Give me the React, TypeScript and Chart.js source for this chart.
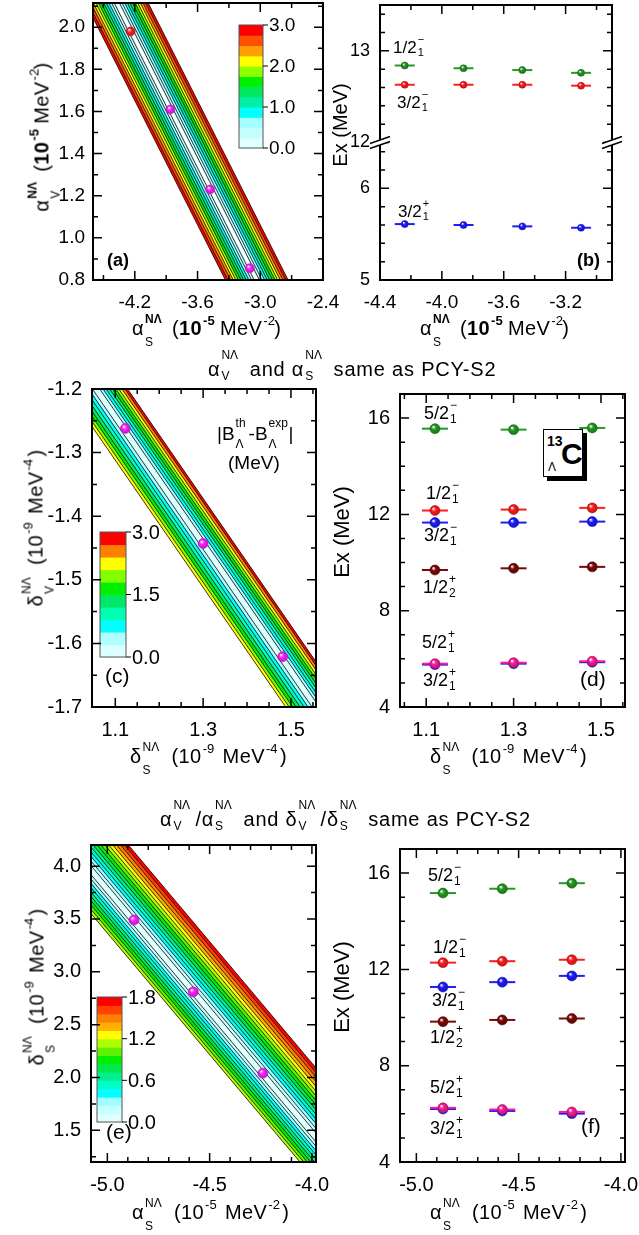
import React, { useEffect, useRef } from 'react';
import { Chart, registerables } from 'chart.js';

Chart.register(...registerables);

const FONT = '"Liberation Sans", Arial, Helvetica, sans-serif';

// ================= DATA =================
// (a) contour over (alpha_S, alpha_V)
const aPointsX = [-4.24, -3.86, -3.48, -3.10];
const aPointsY = [1.98, 1.61, 1.23, 0.856];
const aPointColors = ['#ff2020', '#ff20ff', '#ff20ff', '#ff20ff'];
const aValleyX = [-4.56, -2.83];
const aValleyY = [2.30, 0.60];
const aEdgesPlus = [0.025, 0.05, 0.075, 0.10, 0.125, 0.15, 0.175, 0.20, 0.225, 0.25, 0.275, 0.30];
const aEdgesMinus = [-0.025, -0.05, -0.075, -0.10, -0.125, -0.15, -0.175, -0.20, -0.225, -0.25, -0.275, -0.30];
const aLevelColors = ['#e0ffff', '#c4ffff', '#a4ffff', '#00ffff', '#00f0a8', '#00e860', '#00f000', '#90ff00', '#ffff00', '#ffa000', '#ff5000', '#ff0000'];
const aBarLabels = ['0.0', '1.0', '2.0', '3.0'];

// (b) excitation energies vs alpha_S
const bAlphaS = [-4.24, -3.86, -3.48, -3.10];
const bHalf1Minus = [12.84, 12.81, 12.79, 12.76];
const bThree2Minus1 = [12.63, 12.63, 12.63, 12.62];
const bThree2Plus1 = [5.61, 5.60, 5.585, 5.57];
const bLowTicks = [5, 5.2, 5.4, 5.6, 5.8, 6, 6.2, 6.4];
const bHighTicks = [12, 12.2, 12.4, 12.6, 12.8, 13, 13.2, 13.4];
const bLabelled = [5, 6, 12, 13];

// (c) contour over (delta_S, delta_V)
const cPointsX = [1.123, 1.30, 1.481];
const cPointsY = [-1.262, -1.443, -1.621];
const cValleyX = [1.0, 1.6];
const cValleyY = [-1.143, -1.743];
const cEdgesPlus = [0.0075, 0.015, 0.0225, 0.030, 0.037, 0.044, 0.051, 0.058, 0.065, 0.071];
const cEdgesMinus = [-0.009, -0.018, -0.027, -0.036, -0.045, -0.053, -0.061, -0.069];
const cLevelColors = ['#dcffff', '#b0ffff', '#00ffff', '#00ffb0', '#00e868', '#00f000', '#80ff00', '#ffff00', '#ff8000', '#ff0000'];
const cBarLabels = ['0.0', '1.5', '3.0'];

// (d) excitation energies vs delta_S
const dDeltaS = [1.12, 1.30, 1.48];
const dFive2Minus1 = [15.56, 15.52, 15.59];
const dHalf1Minus = [12.16, 12.20, 12.27];
const dThree2Minus1 = [11.66, 11.66, 11.70];
const dHalf2Plus = [9.69, 9.76, 9.82];
const dFive2Plus1 = [5.80, 5.84, 5.90];
const dThree2Plus1 = [5.76, 5.80, 5.86];

// (e) contour over (alpha_S, delta_S)
const ePointsX = [-4.87, -4.58, -4.24];
const ePointsY = [3.49, 2.81, 2.04];
const eValleyX = [-5.2, -3.9];
const eValleyY = [4.236, 1.246];
const eEdgesPlus = [0.044, 0.088, 0.132, 0.176, 0.22, 0.264, 0.308, 0.352, 0.396, 0.44, 0.484, 0.528, 0.572, 0.616, 0.66];
const eEdgesMinus = [-0.041, -0.082, -0.123, -0.164, -0.205, -0.246, -0.287, -0.328, -0.369, -0.41];
const eLevelColors = ['#e0ffff', '#c8ffff', '#a0ffff', '#00ffff', '#00ffc8', '#00f090', '#00e850', '#00f000', '#60f000', '#b0ff00', '#ffff00', '#ffb000', '#ff8000', '#ff4000', '#ff0000'];
const eBarLabels = ['0.0', '0.6', '1.2', '1.8'];

// (f) excitation energies vs alpha_S (ratios fixed)
const fAlphaS = [-4.87, -4.58, -4.24];
const fFive2Minus1 = [15.17, 15.35, 15.58];
const fHalf1Minus = [12.28, 12.34, 12.40];
const fThree2Minus1 = [11.27, 11.47, 11.73];
const fHalf2Plus = [9.83, 9.90, 9.96];
const fFive2Plus1 = [6.25, 6.18, 6.08];
const fThree2Plus1 = [6.20, 6.12, 6.01];

// ================= LAYOUT =================
const YW = 70, PT = 10, PR = 26, XH = 40;
type Geom = { L: number; T: number; R: number; B: number };
const GA: Geom = { L: 93, T: 3, R: 323, B: 280 };
const GB: Geom = { L: 380, T: 3, R: 612, B: 280 };
const GC: Geom = { L: 92, T: 389, R: 316, B: 707 };
const GD: Geom = { L: 400, T: 389, R: 625, B: 707 };
const GE: Geom = { L: 91, T: 845, R: 316, B: 1162 };
const GF: Geom = { L: 400, T: 844, R: 625, B: 1162 };

const GREEN = '#229a22', RED = '#ff1c1c', BLUE = '#1c1cff', DRED = '#7a0808', PINK = '#ff1a96';

const seq = (a: number, b: number, step: number) => {
  const out: number[] = [];
  for (let i = 0; a + i * step <= b + 1e-9; i++) out.push(+(a + i * step).toFixed(6));
  return out;
};

function axis(kind: 'x' | 'y', min: number, max: number, ticks: number[], majors: number[], fmt: (v: number) => string, size: number, pad: number) {
  return {
    type: 'linear',
    position: kind === 'x' ? 'bottom' : 'left',
    min,
    max,
    grid: { display: false, drawTicks: false },
    border: { display: false },
    afterBuildTicks: (s: any) => {
      s.ticks = ticks.map((v) => ({ value: v }));
    },
    afterFit: (s: any) => {
      if (kind === 'x') s.height = XH;
      else s.width = YW;
      s.paddingLeft = 0;
      s.paddingRight = 0;
      s.paddingTop = 0;
      s.paddingBottom = 0;
    },
    ticks: {
      autoSkip: false,
      maxRotation: 0,
      minRotation: 0,
      padding: pad,
      color: '#000',
      font: { family: FONT, size },
      callback: (v: number) => {
        const i = majors.findIndex((q) => Math.abs(q - v) < 1e-6);
        return i < 0 ? '' : fmt(majors[i]);
      },
    },
  };
}

function baseOptions(xs: any, ys: any) {
  return {
    animation: false,
    responsive: false,
    events: [],
    layout: { padding: { left: 0, top: PT, right: PR, bottom: 0 } },
    plugins: { legend: { display: false }, tooltip: { enabled: false } },
    scales: { x: xs, y: ys },
  };
}

function shade(hex: string, f: number) {
  const n = parseInt(hex.slice(1), 16);
  const r = Math.round(((n >> 16) & 255) * f), g = Math.round(((n >> 8) & 255) * f), b = Math.round((n & 255) * f);
  return `rgb(${r},${g},${b})`;
}

function sphere(color: string | string[], r: number) {
  return (c: any) => {
    const col = Array.isArray(color) ? color[c.dataIndex] || color[0] : color;
    if (!c || c.type !== 'data' || !c.parsed) return col;
    const ch = c.chart;
    const px = ch.scales.x.getPixelForValue(c.parsed.x);
    const py = ch.scales.y.getPixelForValue(c.parsed.y);
    if (!isFinite(px) || !isFinite(py)) return col;
    const g = ch.ctx.createRadialGradient(px - r * 0.35, py - r * 0.4, r * 0.05, px, py, r);
    g.addColorStop(0, '#ffffff');
    g.addColorStop(0.4, col);
    g.addColorStop(1, shade(col, 0.75));
    return g;
  };
}

function framePlugin(breakAt?: number) {
  return {
    id: 'frame',
    afterDraw(chart: any) {
      const { ctx, chartArea: a, scales } = chart;
      const xs = scales.x, ys = scales.y;
      ctx.save();
      ctx.strokeStyle = '#000';
      ctx.lineWidth = 1.5;
      ctx.beginPath();
      xs.ticks.forEach((t: any) => {
        const p = xs.getPixelForValue(t.value);
        if (p < a.left + 1.5 || p > a.right - 1.5) return;
        const len = t.label ? 9 : 5;
        ctx.moveTo(p, a.bottom);
        ctx.lineTo(p, a.bottom - len);
        ctx.moveTo(p, a.top);
        ctx.lineTo(p, a.top + len);
      });
      ys.ticks.forEach((t: any) => {
        const p = ys.getPixelForValue(t.value);
        if (p < a.top + 1.5 || p > a.bottom - 1.5) return;
        const len = t.label ? 9 : 5;
        ctx.moveTo(a.left, p);
        ctx.lineTo(a.left + len, p);
        ctx.moveTo(a.right, p);
        ctx.lineTo(a.right - len, p);
      });
      ctx.stroke();
      ctx.lineWidth = 2;
      ctx.strokeRect(a.left, a.top, a.right - a.left, a.bottom - a.top);
      if (breakAt !== undefined) {
        const yb = ys.getPixelForValue(breakAt);
        [a.left, a.right].forEach((xb: number) => {
          ctx.fillStyle = '#fff';
          ctx.beginPath();
          ctx.moveTo(xb - 10, yb + 1);
          ctx.lineTo(xb + 10, yb - 6);
          ctx.lineTo(xb + 10, yb - 1);
          ctx.lineTo(xb - 10, yb + 6);
          ctx.closePath();
          ctx.fill();
          ctx.lineWidth = 1.5;
          ctx.beginPath();
          ctx.moveTo(xb - 10, yb + 1);
          ctx.lineTo(xb + 10, yb - 6);
          ctx.moveTo(xb - 10, yb + 6);
          ctx.lineTo(xb + 10, yb - 1);
          ctx.stroke();
        });
      }
      ctx.restore();
    },
  };
}

type BandCfg = { vx: number[]; vy: number[]; dir: 'x' | 'y'; plus: number[]; minus: number[]; colors: string[]; white?: boolean };
function bandPlugin(b: BandCfg) {
  return {
    id: 'bands',
    beforeDatasetsDraw(chart: any) {
      const { ctx, chartArea: a, scales } = chart;
      const x = scales.x, y = scales.y;
      const pt = (i: number, o: number): [number, number] =>
        b.dir === 'x'
          ? [x.getPixelForValue(b.vx[i] + o), y.getPixelForValue(b.vy[i])]
          : [x.getPixelForValue(b.vx[i]), y.getPixelForValue(b.vy[i] + o)];
      ctx.save();
      ctx.beginPath();
      ctx.rect(a.left, a.top, a.right - a.left, a.bottom - a.top);
      ctx.clip();
      [b.plus, b.minus].forEach((edges) => {
        let prev = 0;
        edges.forEach((o, i) => {
          const p = [pt(0, prev), pt(1, prev), pt(1, o), pt(0, o)];
          ctx.beginPath();
          ctx.moveTo(p[0][0], p[0][1]);
          for (let k = 1; k < 4; k++) ctx.lineTo(p[k][0], p[k][1]);
          ctx.closePath();
          ctx.fillStyle = b.colors[i];
          ctx.fill();
          prev = o;
        });
      });
      ctx.strokeStyle = '#000';
      ctx.lineWidth = 0.8;
      [...b.plus, ...b.minus].forEach((o) => {
        const p0 = pt(0, o), p1 = pt(1, o);
        ctx.beginPath();
        ctx.moveTo(p0[0], p0[1]);
        ctx.lineTo(p1[0], p1[1]);
        ctx.stroke();
      });
      if (b.white) {
        const p0 = pt(0, 0), p1 = pt(1, 0);
        ctx.strokeStyle = '#fff';
        ctx.lineWidth = 2;
        ctx.beginPath();
        ctx.moveTo(p0[0], p0[1]);
        ctx.lineTo(p1[0], p1[1]);
        ctx.stroke();
      }
      ctx.restore();
    },
  };
}

function colorbarPlugin(g: Geom, r: { x0: number; y0: number; x1: number; y1: number }, colors: string[], labels: string[], size: number) {
  return {
    id: 'cbar',
    afterDatasetsDraw(chart: any) {
      const ctx = chart.ctx;
      const ox = g.L - YW, oy = g.T - PT;
      const x0 = r.x0 - ox, x1 = r.x1 - ox, y0 = r.y0 - oy, y1 = r.y1 - oy;
      const n = colors.length, h = (y1 - y0) / n;
      ctx.save();
      colors.forEach((c, i) => {
        ctx.fillStyle = c;
        ctx.fillRect(x0, y1 - (i + 1) * h, x1 - x0, h + 0.6);
      });
      ctx.strokeStyle = '#555';
      ctx.lineWidth = 1;
      ctx.strokeRect(x0, y0, x1 - x0, y1 - y0);
      ctx.fillStyle = '#000';
      ctx.font = `${size}px ${FONT}`;
      ctx.textBaseline = 'middle';
      ctx.textAlign = 'left';
      ctx.strokeStyle = '#000';
      labels.forEach((lab, j) => {
        const yy = y1 - ((y1 - y0) * j) / (labels.length - 1);
        ctx.beginPath();
        ctx.moveTo(x1, yy);
        ctx.lineTo(x1 + 5, yy);
        ctx.stroke();
        ctx.fillText(lab, x1 + 6, yy + 1);
      });
      ctx.restore();
    },
  };
}

function stateSets(xs: number[], states: { ys: number[]; col: string }[], segR: number, dotR: number, map: (v: number) => number = (v) => v) {
  const sets: any[] = [];
  states.forEach((s, k) => {
    const data = xs.map((x, i) => ({ x, y: map(s.ys[i]) }));
    sets.push({
      data,
      order: 2 * k,
      pointStyle: 'circle',
      pointRadius: dotR,
      pointBackgroundColor: sphere(s.col, dotR),
      pointBorderColor: shade(s.col, 0.7),
      pointBorderWidth: 0.6,
    });
    sets.push({
      data,
      order: 2 * k + 1,
      pointStyle: 'line',
      pointRadius: segR,
      pointBorderColor: s.col,
      pointBorderWidth: 2,
    });
  });
  return sets;
}

function dotSet(xs: number[], ys: number[], colors: string[], r: number) {
  return {
    data: xs.map((x, i) => ({ x, y: ys[i] })),
    pointStyle: 'circle',
    pointRadius: r,
    pointBackgroundColor: sphere(colors, r),
    pointBorderColor: colors.map((c) => shade(c, 0.75)),
    pointBorderWidth: 0.6,
  };
}

const f1 = (v: number) => v.toFixed(1);
const f0 = (v: number) => String(v);
const bMap = (v: number) => (v < 9 ? v - 5 : v - 10.5);

const makeA = () => ({
  type: 'scatter',
  data: { datasets: [dotSet(aPointsX, aPointsY, aPointColors, 4.5)] },
  options: baseOptions(
    axis('x', -4.6, -2.4, seq(-4.5, -2.4, 0.3), [-4.2, -3.6, -3.0, -2.4], f1, 19, 11),
    axis('y', 0.8, 2.115, seq(0.8, 2.1, 0.1), [0.8, 1.0, 1.2, 1.4, 1.6, 1.8, 2.0], f1, 19, 8),
  ),
  plugins: [
    bandPlugin({ vx: aValleyX, vy: aValleyY, dir: 'x', plus: aEdgesPlus, minus: aEdgesMinus, colors: aLevelColors, white: true }),
    colorbarPlugin(GA, { x0: 239, y0: 25, x1: 263, y1: 148 }, aLevelColors, aBarLabels, 19),
    framePlugin(),
  ],
});

const makeB = () => ({
  type: 'scatter',
  data: {
    datasets: stateSets(bAlphaS, [
      { ys: bHalf1Minus, col: GREEN },
      { ys: bThree2Minus1, col: RED },
      { ys: bThree2Plus1, col: BLUE },
    ], 10, 3.5, bMap),
  },
  options: baseOptions(
    axis('x', -4.4, -2.9, seq(-4.4, -3.0, 0.2), [-4.4, -4.0, -3.6, -3.2], f1, 19, 11),
    axis('y', 0, 3, [...bLowTicks, ...bHighTicks].map(bMap), bLabelled.map(bMap), (v) => String(bLabelled[bLabelled.map(bMap).findIndex((q) => Math.abs(q - v) < 1e-6)]), 18, 10),
  ),
  plugins: [framePlugin(1.5)],
});

const makeC = () => ({
  type: 'scatter',
  data: { datasets: [dotSet(cPointsX, cPointsY, ['#ff20ff', '#ff20ff', '#ff20ff'], 5)] },
  options: baseOptions(
    axis('x', 1.047, 1.557, seq(1.05, 1.55, 0.05), [1.1, 1.3, 1.5], f1, 20, 11),
    axis('y', -1.7, -1.2, seq(-1.7, -1.2, 0.05), [-1.7, -1.6, -1.5, -1.4, -1.3, -1.2], f1, 20, 10),
  ),
  plugins: [
    bandPlugin({ vx: cValleyX, vy: cValleyY, dir: 'y', plus: cEdgesPlus, minus: cEdgesMinus, colors: cLevelColors }),
    colorbarPlugin(GC, { x0: 100, y0: 532, x1: 126, y1: 657 }, cLevelColors, cBarLabels, 20),
    framePlugin(),
  ],
});

const makeD = () => ({
  type: 'scatter',
  data: {
    datasets: stateSets(dDeltaS, [
      { ys: dFive2Minus1, col: GREEN },
      { ys: dHalf1Minus, col: RED },
      { ys: dThree2Minus1, col: BLUE },
      { ys: dHalf2Plus, col: DRED },
      { ys: dFive2Plus1, col: PINK },
      { ys: dThree2Plus1, col: BLUE },
    ], 13, 5),
  },
  options: baseOptions(
    axis('x', 1.04, 1.555, seq(1.05, 1.55, 0.05), [1.1, 1.3, 1.5], f1, 20, 11),
    axis('y', 4, 17, seq(4, 17, 1), [4, 8, 12, 16], f0, 20, 10),
  ),
  plugins: [framePlugin()],
});

const makeE = () => ({
  type: 'scatter',
  data: { datasets: [dotSet(ePointsX, ePointsY, ['#ff20ff', '#ff20ff', '#ff20ff'], 5)] },
  options: baseOptions(
    axis('x', -5.08, -3.98, seq(-5.0, -4.0, 0.1), [-5.0, -4.5, -4.0], f1, 20, 11),
    axis('y', 1.2, 4.2, seq(1.25, 4.0, 0.25), [1.5, 2.0, 2.5, 3.0, 3.5, 4.0], f1, 20, 10),
  ),
  plugins: [
    bandPlugin({ vx: eValleyX, vy: eValleyY, dir: 'y', plus: eEdgesPlus, minus: eEdgesMinus, colors: eLevelColors }),
    colorbarPlugin(GE, { x0: 97, y0: 997, x1: 122, y1: 1122 }, eLevelColors, eBarLabels, 20),
    framePlugin(),
  ],
});

const makeF = () => ({
  type: 'scatter',
  data: {
    datasets: stateSets(fAlphaS, [
      { ys: fFive2Minus1, col: GREEN },
      { ys: fHalf1Minus, col: RED },
      { ys: fThree2Minus1, col: BLUE },
      { ys: fHalf2Plus, col: DRED },
      { ys: fFive2Plus1, col: PINK },
      { ys: fThree2Plus1, col: BLUE },
    ], 13, 5),
  },
  options: baseOptions(
    axis('x', -5.08, -3.98, seq(-5.0, -4.0, 0.1), [-5.0, -4.5, -4.0], f1, 20, 11),
    axis('y', 4, 17, seq(4, 17, 1), [4, 8, 12, 16], f0, 20, 10),
  ),
  plugins: [framePlugin()],
});

function Panel({ g, make }: { g: Geom; make: () => any }) {
  const ref = useRef<HTMLCanvasElement>(null);
  useEffect(() => {
    const c = new Chart(ref.current as HTMLCanvasElement, make());
    return () => c.destroy();
  }, []);
  const w = YW + g.R - g.L + PR, h = PT + g.B - g.T + XH;
  return <canvas ref={ref} width={w} height={h} style={{ position: 'absolute', left: g.L - YW, top: g.T - PT, width: w, height: h }} />;
}

// ================= TEXT =================
function Txt({ x, base, fs, bold, ls, children }: any) {
  return (
    <div style={{ position: 'absolute', left: x, top: base - 0.8465 * fs, fontSize: fs, lineHeight: `${fs}px`, fontWeight: bold ? 'bold' : 'normal', whiteSpace: 'nowrap', letterSpacing: ls || 0 }}>
      {children}
    </div>
  );
}

function VTxt({ cx, cy, fs, ls, children }: any) {
  return (
    <div style={{ position: 'absolute', left: cx, top: cy, fontSize: fs, lineHeight: `${fs}px`, whiteSpace: 'nowrap', letterSpacing: ls || 0, transform: 'translate(-50%, -50%) rotate(-90deg)' }}>
      {children}
    </div>
  );
}

function Stk({ fs, s, w, sup, sub, supTop = 0, subTop = 0, bold = false }: any) {
  return (
    <span style={{ position: 'relative', display: 'inline-block', width: w, height: fs }}>
      {sup !== undefined && (
        <span style={{ position: 'absolute', left: 1, top: supTop, fontSize: s, lineHeight: `${s}px`, fontWeight: bold ? 'bold' : 'normal', letterSpacing: 0 }}>{sup}</span>
      )}
      {sub !== undefined && (
        <span style={{ position: 'absolute', left: 1, top: subTop, fontSize: s, lineHeight: `${s}px`, fontWeight: 'normal', letterSpacing: 0 }}>{sub}</span>
      )}
    </span>
  );
}

function State({ x, base, fs, num, sign, idx }: any) {
  return (
    <Txt x={x} base={base} fs={fs}>
      {num}
      <Stk fs={fs} s={Math.round(fs * 0.67)} w={fs * 0.5} sup={sign} sub={idx} supTop={-0.11 * fs} subTop={0.69 * fs} />
    </Txt>
  );
}

// axis title: alpha/delta with NΛ superscript and subscript, then units
function VarTitle({ sym, sub, exp, fs, boldTen, wide }: any) {
  const e = wide ? 15 : 12;
  return (
    <>
      {sym}
      <Stk fs={fs} s={12} w={wide ? 24 : 22} sup="NΛ" sub={sub} supTop={-2.5} subTop={fs + 1} bold={boldTen} />
      {' ('}
      {boldTen ? <b>10</b> : '10'}
      <Stk fs={fs} s={13} w={e} sup={exp[0]} supTop={-1} bold={boldTen} />
      {' MeV'}
      <Stk fs={fs} s={13} w={e} sup={exp[1]} supTop={-1} />
      {')'}
    </>
  );
}

function TitleVar({ sym, sub, fs }: any) {
  return (
    <>
      {sym}
      <Stk fs={fs} s={12} w={23} sup="NΛ" sub={sub} supTop={-6.8} subTop={14} />
    </>
  );
}

export default function App() {
  return (
    <div style={{ position: 'absolute', left: 0, top: 0, width: 639, height: 1235, background: '#fff', overflow: 'hidden', fontFamily: FONT, color: '#000' }}>
      <Panel g={GA} make={makeA} />
      <Panel g={GB} make={makeB} />
      <Panel g={GC} make={makeC} />
      <Panel g={GD} make={makeD} />
      <Panel g={GE} make={makeE} />
      <Panel g={GF} make={makeF} />

      {/* panel tags */}
      <Txt x={107} base={266} fs={18} bold>(a)</Txt>
      <Txt x={577} base={266} fs={18} bold>(b)</Txt>
      <Txt x={105} base={683} fs={21}>(c)</Txt>
      <Txt x={580} base={686} fs={21}>(d)</Txt>
      <Txt x={106} base={1139} fs={21}>(e)</Txt>
      <Txt x={581} base={1133} fs={21}>(f)</Txt>

      {/* x axis titles */}
      <Txt x={132} base={332} fs={20} ls={0.4}><VarTitle sym="α" sub="S" exp={['-5', '-2']} fs={20} boldTen /></Txt>
      <Txt x={420} base={332} fs={20} ls={0.4}><VarTitle sym="α" sub="S" exp={['-5', '-2']} fs={20} boldTen /></Txt>
      <Txt x={130} base={760} fs={20} ls={0.4}><VarTitle sym="δ" sub="S" exp={['-9', '-4']} fs={20} wide /></Txt>
      <Txt x={430} base={760} fs={20} ls={0.4}><VarTitle sym="δ" sub="S" exp={['-9', '-4']} fs={20} wide /></Txt>
      <Txt x={132} base={1216} fs={20} ls={0.4}><VarTitle sym="α" sub="S" exp={['-5', '-2']} fs={20} wide /></Txt>
      <Txt x={430} base={1216} fs={20} ls={0.4}><VarTitle sym="α" sub="S" exp={['-5', '-2']} fs={20} wide /></Txt>

      {/* y axis titles */}
      <VTxt cx={40} cy={137} fs={20} ls={0.4}><VarTitle sym="α" sub="V" exp={['-5', '-2']} fs={20} boldTen /></VTxt>
      <VTxt cx={340} cy={125} fs={20}>Ex (MeV)</VTxt>
      <VTxt cx={34} cy={528} fs={20} ls={0.4}><VarTitle sym="δ" sub="V" exp={['-9', '-4']} fs={20} wide /></VTxt>
      <VTxt cx={342} cy={532} fs={22}>Ex (MeV)</VTxt>
      <VTxt cx={35} cy={987} fs={20} ls={0.4}><VarTitle sym="δ" sub="S" exp={['-9', '-4']} fs={20} wide /></VTxt>
      <VTxt cx={342} cy={987} fs={22}>Ex (MeV)</VTxt>

      {/* section titles */}
      <Txt x={208} base={373} fs={20} ls={0.8}>
        <TitleVar sym="α" sub="V" fs={20} /> and <TitleVar sym="α" sub="S" fs={20} /> same as PCY-S2
      </Txt>
      <Txt x={160} base={823} fs={20} ls={0.8}>
        <TitleVar sym="α" sub="V" fs={20} />/<TitleVar sym="α" sub="S" fs={20} /> and <TitleVar sym="δ" sub="V" fs={20} />/<TitleVar sym="δ" sub="S" fs={20} /> same as PCY-S2
      </Txt>

      {/* (c) label */}
      <Txt x={217} base={437} fs={19}>
        |B<Stk fs={19} s={12} w={14} sup="th" sub="Λ" supTop={-3.5} subTop={17} />-B<Stk fs={19} s={12} w={21} sup="exp" sub="Λ" supTop={-3.5} subTop={17} />|
      </Txt>
      <Txt x={228} base={469} fs={19}>(MeV)</Txt>

      {/* (b) state labels */}
      <State x={393} base={50} fs={17} num="1/2" sign="−" idx="1" />
      <State x={397} base={105} fs={17} num="3/2" sign="−" idx="1" />
      <State x={398} base={214} fs={17} num="3/2" sign="+" idx="1" />

      {/* (d) state labels */}
      <State x={424} base={416} fs={18} num="5/2" sign="−" idx="1" />
      <State x={426} base={496} fs={18} num="1/2" sign="−" idx="1" />
      <State x={424} base={538} fs={18} num="3/2" sign="−" idx="1" />
      <State x={423} base={590} fs={18} num="1/2" sign="+" idx="2" />
      <State x={422} base={645} fs={18} num="5/2" sign="+" idx="1" />
      <State x={423} base={683} fs={18} num="3/2" sign="+" idx="1" />

      {/* (f) state labels */}
      <State x={428} base={878} fs={18} num="5/2" sign="−" idx="1" />
      <State x={433} base={950} fs={18} num="1/2" sign="−" idx="1" />
      <State x={432} base={1003} fs={18} num="3/2" sign="−" idx="1" />
      <State x={430} base={1040} fs={18} num="1/2" sign="+" idx="2" />
      <State x={430} base={1090} fs={18} num="5/2" sign="+" idx="1" />
      <State x={430} base={1131} fs={18} num="3/2" sign="+" idx="1" />

      {/* 13ΛC box */}
      <div style={{ position: 'absolute', left: 547, top: 433, width: 40, height: 48, background: '#000' }} />
      <div style={{ position: 'absolute', left: 543, top: 429, width: 38, height: 46, background: '#fff', border: '1.5px solid #000' }}>
        <span style={{ position: 'absolute', left: 3, top: 4, fontSize: 14, lineHeight: '14px', fontWeight: 'bold' }}>13</span>
        <span style={{ position: 'absolute', left: 4, top: 31, fontSize: 12, lineHeight: '12px' }}>Λ</span>
        <span style={{ position: 'absolute', left: 17, top: 9, fontSize: 30, lineHeight: '30px', fontWeight: 'bold' }}>C</span>
      </div>
    </div>
  );
}
